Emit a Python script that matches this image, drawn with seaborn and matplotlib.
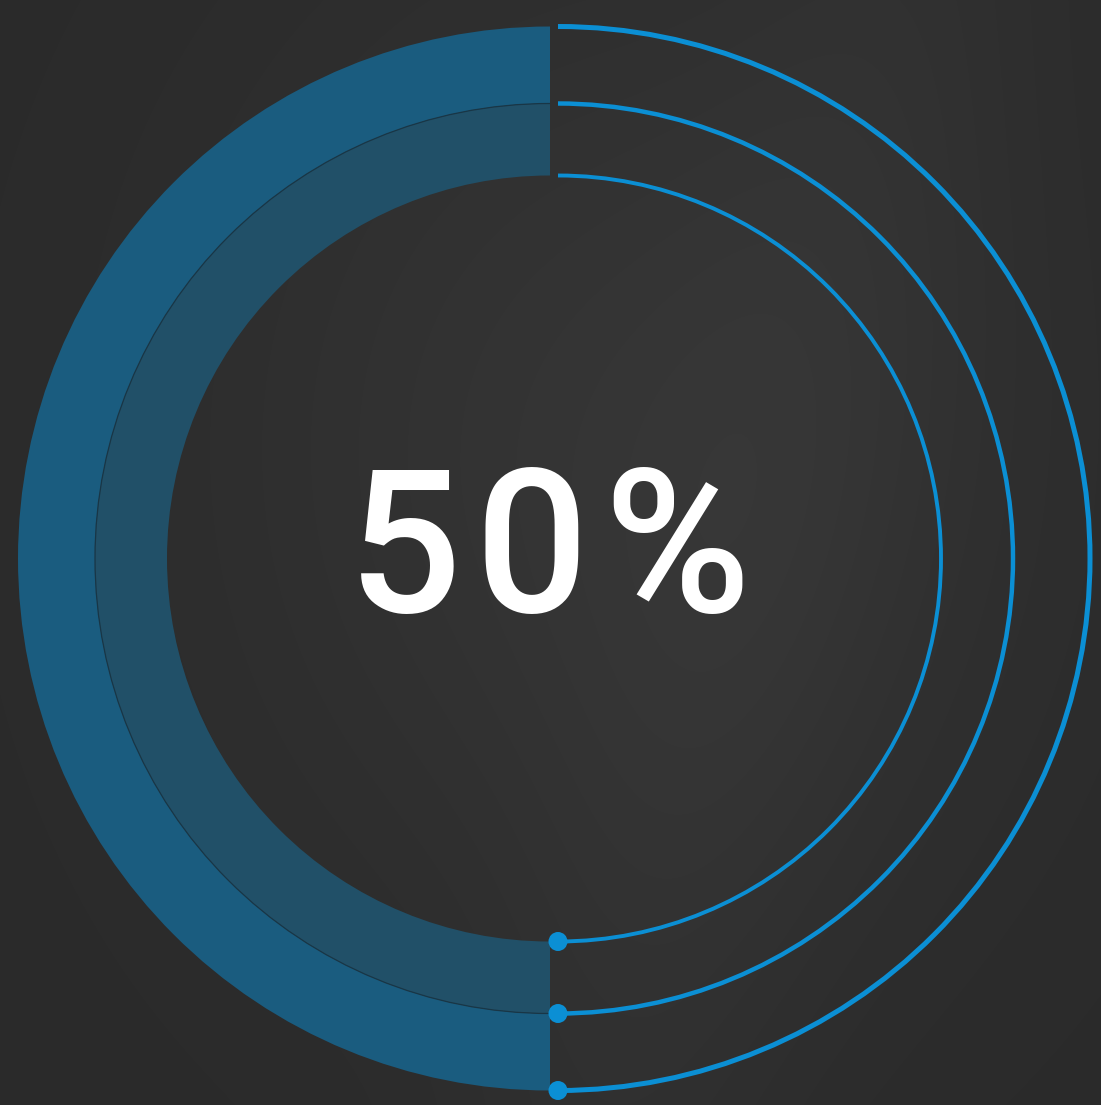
import numpy as np
import matplotlib
matplotlib.use("Agg")
import matplotlib.pyplot as plt
import seaborn as sns
from matplotlib.patches import Wedge, Arc, Circle

sns.set_theme(style="dark")
plt.rcParams['font.family'] = ['Roboto', 'DejaVu Sans']

# ---- data ----
rings = ["outer", "middle", "inner"]
percent_values = [50, 50, 50]
center_label = "50%"

W, H = 1101, 1105
fig = plt.figure(figsize=(W / 100, H / 100), dpi=100)
ax = fig.add_axes([0, 0, 1, 1])
ax.set_xlim(0, W)
ax.set_ylim(0, H)
ax.set_aspect("equal")
ax.axis("off")

# background: dark photographic-like gradient
yy, xx = np.mgrid[0:H, 0:W]
base = 0.165 + 0.04 * np.exp(-(((xx - 620) / 420) ** 2 + ((yy - 450) / 520) ** 2))
band = np.exp(-((xx - (620 + 0.25 * (H - yy))) / 170) ** 2) * 0.015
bg = np.clip(base + band, 0, 1)
img = np.dstack([bg, bg, bg])
ax.imshow(img, extent=[0, W, 0, H], origin="upper", zorder=0, interpolation="bilinear")

cy = H - 558.5
band_cx = 550
arc_cx = 558
band_radii = [532, 455, 383]
band_colors = ["#1a5c7f", "#215068"]
arc_widths = [3.6, 3.2, 2.8]
arc_color = "#0b8fd4"

# filled bands (value portion)
for i in range(2):
    v = percent_values[i]
    t1 = 90
    t2 = 90 + 360 * v / 100
    r_out = band_radii[i]
    r_in = band_radii[i + 1]
    ax.add_patch(Wedge((band_cx, cy), r_out, t1, t2, width=r_out - r_in,
                       facecolor=band_colors[i], edgecolor="none", zorder=2))
v = percent_values[1]
ax.add_patch(Arc((band_cx, cy), 2 * band_radii[1], 2 * band_radii[1], theta1=90,
                 theta2=90 + 360 * v / 100, color="#193646", lw=0.9, zorder=3))

# thin track arcs for remaining portion with end dots
for i, name in enumerate(rings):
    v = percent_values[i]
    r = band_radii[i]
    start = 90 + 360 * v / 100
    end = 450
    ax.add_patch(Arc((arc_cx, cy), 2 * r, 2 * r, theta1=start, theta2=end,
                     color=arc_color, lw=arc_widths[i], zorder=4))
    ang = np.deg2rad(start)
    ax.add_patch(Circle((arc_cx + r * np.cos(ang), cy + r * np.sin(ang)), 9.5,
                        facecolor=arc_color, edgecolor="none", zorder=5))

# center label
char_x = [405, 531.5, 677]
for ch, x in zip(center_label, char_x):
    ax.text(x, H - 612, ch, color="white", fontsize=144, fontweight="medium",
            ha="center", va="baseline", zorder=6)

fig.savefig("out.png", dpi=100, facecolor="#2a2a2a")
